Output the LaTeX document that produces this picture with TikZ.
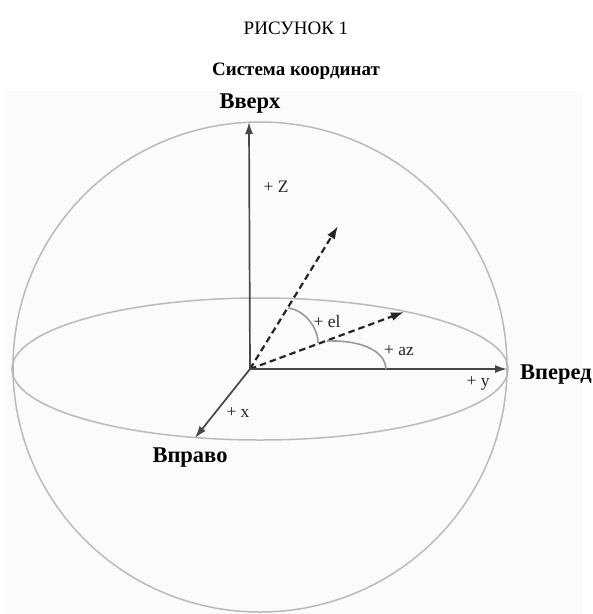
\documentclass[tikz,border=0pt]{standalone}
\usepackage{fontspec}
\setmainfont{Liberation Serif}
\usetikzlibrary{arrows.meta}
\tikzset{
  shell/.style={draw=black!27, line width=1.5pt},
  axisarr/.style={-{Latex[length=12pt,width=8pt]}, draw=black!72, line width=1.7pt},
  rayarr/.style={-{Latex[length=13pt,width=9pt]}, draw=black!85, line width=2.2pt,
                 dash pattern=on 6.5pt off 4pt},
  anglearc/.style={draw=black!40, line width=1.6pt},
  axlab/.style={font=\fontsize{17.5}{17.5}\selectfont, text=black!85, inner sep=0pt},
  dirlab/.style={font=\fontsize{22.5}{22.5}\selectfont\bfseries, inner sep=0pt},
}
\begin{document}
\begin{tikzpicture}[x=1pt,y=-1pt]
\useasboundingbox (0,0) rectangle (593,614);
\fill[black!1.5] (5,91) rectangle (583,614);
% titles
\node[font=\fontsize{19}{19}\selectfont, inner sep=0pt] (fig) at (296,28) {РИСУНОК 1};
\node[font=\fontsize{19}{19}\selectfont\bfseries, inner sep=0pt] (title) at (296,71) {Система координат};
% sphere and equator
\draw[shell] (260,367) ellipse [x radius=247, y radius=245];
\draw[shell] (260,369) ellipse [x radius=248, y radius=71];
% axes
\coordinate (o) at (250,369);
\coordinate (ztip) at (249,122);
\coordinate (ytip) at (507,369);
\coordinate (xtip) at (195,438);
\coordinate (eltip) at (338,226);
\coordinate (aztip) at (404,312);
\draw[rayarr] (o) -- (eltip);
\draw[rayarr] (o) -- (aztip);
\draw[axisarr] (o) -- (ztip);
\draw[axisarr] (o) -- (ytip);
\draw[axisarr] (o) -- (xtip);
% angles
\draw[anglearc] (386,369) .. controls (385,350) and (360,340) .. (327,341);
\draw[anglearc] (318,343) .. controls (318,328) and (305,310) .. (288,308);
% labels
\node[axlab] (zlab) at (276,187) {+ Z};
\node[axlab] (ellab) at (327,322) {+ el};
\node[axlab] (azlab) at (399,351) {+ az};
\node[axlab] (ylab) at (478,383) {+ y};
\node[axlab] (xlab) at (238,413) {+ x};
\node[dirlab] (up) at (250,104) {Вверх};
\node[dirlab] (fwd) at (556,375) {Вперед};
\node[dirlab] (right) at (190,458) {Вправо};
\end{tikzpicture}
\end{document}
